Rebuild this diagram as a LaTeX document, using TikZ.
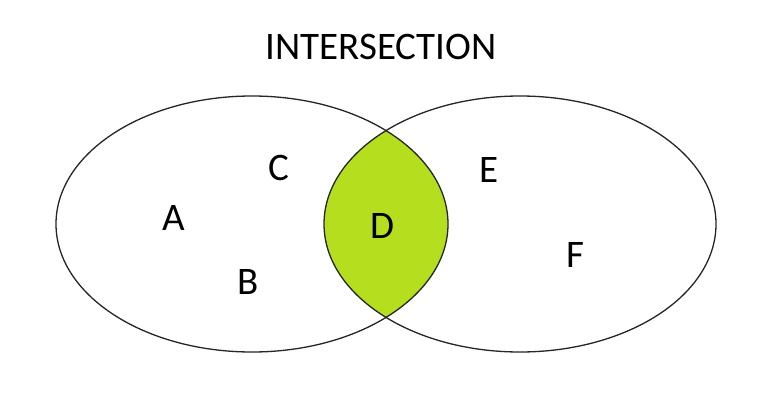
\documentclass[tikz,border=0pt]{standalone}
\usepackage{fontspec}
\setmainfont{Carlito}
\definecolor{lensgreen}{RGB}{180,222,30}
\begin{document}
\begin{tikzpicture}[x=1pt,y=-1pt,
  set/.style={draw=black!85,line width=1.3pt},
  lbl/.style={font=\fontsize{39}{44}\selectfont,inner sep=0pt,anchor=center}]
\useasboundingbox (0,0) rectangle (762,393);
\fill[white] (0,0) rectangle (762,393);
\begin{scope}
  \clip (252,224) ellipse [x radius=196, y radius=128];
  \fill[lensgreen] (520,224) ellipse [x radius=196, y radius=128];
\end{scope}
\draw[set] (252,224) ellipse [x radius=196, y radius=128];
\draw[set] (520,224) ellipse [x radius=196, y radius=128];
\node[lbl] (title) at (381,47) {INTERSECTION};
\node[lbl] (A) at (174,218) {A};
\node[lbl] (C) at (279,168) {C};
\node[lbl] (B) at (248,282) {B};
\node[lbl] (D) at (382,226) {D};
\node[lbl] (E) at (489,170) {E};
\node[lbl] (F) at (575,255) {F};
\end{tikzpicture}
\end{document}
